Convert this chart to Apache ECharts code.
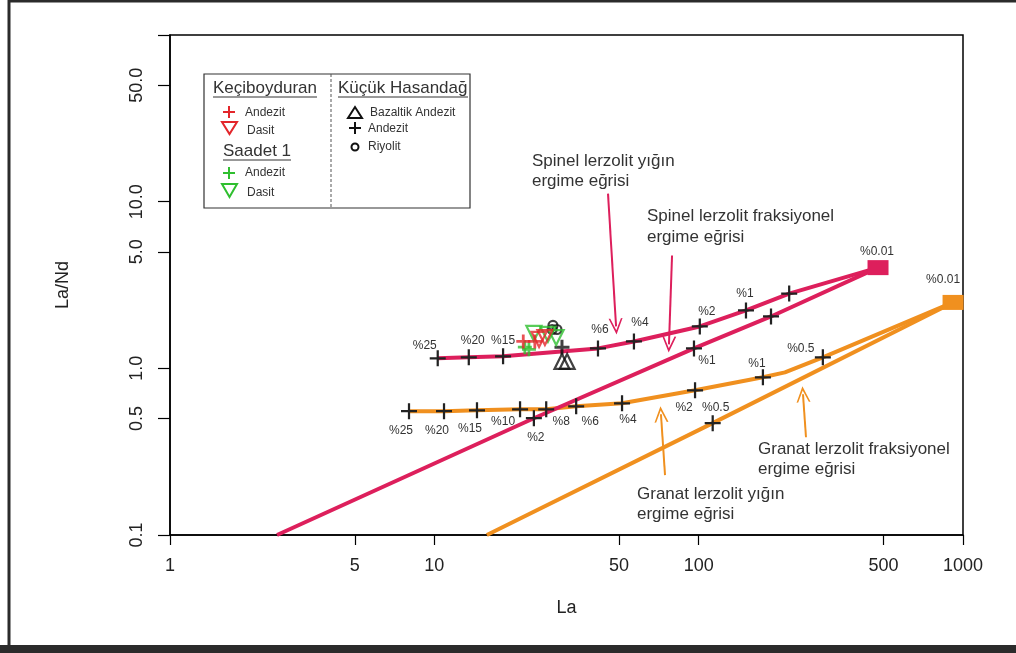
<!DOCTYPE html>
<html>
<head>
<meta charset="utf-8">
<script src="https://cdn.jsdelivr.net/npm/echarts@6/dist/echarts.min.js"></script>
<style>
html,body{margin:0;padding:0;background:#fff;}
#main{width:1016px;height:653px;}
</style>
</head>
<body>
<div id="main"></div>
<script>
//eksen degerleri
var xTicks = [1, 5, 10, 50, 100, 500, 1000];
var yTicks = [0.1, 0.5, 1, 5, 10, 50, 100];
var yLabels = [0.1, 0.5, 1, 5, 10, 50];

//Spinel lerzolit yigin ergime egrisi
var spBatchLa    = [10.3, 13.5, 18.2, 41.6, 56.9, 101, 151, 220, 477];
var spBatchRatio = [1.148, 1.164, 1.18, 1.317, 1.45, 1.784, 2.225, 2.81, 4.02];
var spBatchPct   = ['%25', '%20', '%15', '%6', '%4', '%2', '%1', '', '%0.01'];
//Spinel lerzolit fraksiyonel
var spFracLa    = [2.54, 23.8, 96.0, 187.8, 477];
var spFracRatio = [0.1, 0.502, 1.317, 2.048, 4.02];
var spFracPct   = [null, '%2', '%1', '', null];
//Granat lerzolit yigin
var grBatchLa    = [8.02, 10.88, 14.5, 21.1, 26.5, 34.4, 51.3, 96.9, 175, 212, 295, 917];
var grBatchRatio = [0.553, 0.553, 0.560, 0.568, 0.568, 0.592, 0.617, 0.738, 0.884, 0.946, 1.164, 2.486];
var grBatchPct   = ['%25', '%20', '%15', '%10', '%8', '%6', '%4', '%2', '%1', null, '%0.5', '%0.01'];
//Granat lerzolit fraksiyonel
var grFracLa    = [15.8, 113, 917];
var grFracRatio = [0.1, 0.469, 2.486];
var grFracPct   = [null, '%0.5', null];

//ornekler
var kecAndLa = [21.7, 24.0],       kecAndRatio = [1.45, 1.45];
var kecDasLa = [24.9, 26.2],       kecDasRatio = [1.49, 1.53];
var saaAndLa = [22.0, 22.8],       saaAndRatio = [1.34, 1.30];
var saaDasLa = [23.8, 26.9, 28.9], saaDasRatio = [1.62, 1.60, 1.53];
var khBazLa  = [30.4, 31.8],       khBazRatio  = [1.10, 1.10];
var khAndLa  = [30.4],             khAndRatio  = [1.34];
var khRiyLa  = [28.1, 27.9, 29.1], khRiyRatio  = [1.81, 1.71, 1.71];

//oklar [La1, oran1, La2, oran2]
var arrowSpBatch = [45.4, 11.17, 48.7, 1.784];
var arrowSpFrac  = [79.3, 4.75, 77.2, 1.392];
var arrowGrBatch = [74.6, 0.2287, 72.0, 0.530];
var arrowGrFrac  = [254.7, 0.386, 248.1, 0.699];

//etiket konumlari (px)
var spBatchOff = [[-13,-13],[4,-17],[0,-16],[2,-19],[6,-19],[7,-15],[-1,-17],null,[-1,-16]];
var spFracOff  = [null,[2,19],[13,12],null,null];
var grBatchOff = [[-8,19],[-7,19],[-7,18],[-17,12],[15,12],[14,15],[6,16],[-11,17],[-6,-14],null,[-22,-9],[-10,-23]];
var grFracOff  = [null,[3,-15],null];

var FONT = '"Liberation Sans", Arial, sans-serif';
var CRIMSON = '#dd1f5c';
var ORANGE = '#f0901f';
var PLUS = 'path://M0,4.3H10V5.7H0Z M4.3,0H5.7V10H4.3Z';
var PLUS_B = 'path://M0,4H10V6H0Z M4,0H6V10H4Z';
var CHEV = 'path://M0,10 L5,0 L10,10 L8.8,10 L5,2.6 L1.2,10 Z';

var chart = echarts.init(document.getElementById('main'));

function curve(name, la, ratio, pct, offs, color, arrow){
	var data = [];
	for(var i=0;i<la.length;i++){
		var item = {value:[la[i], ratio[i]]};
		if(pct[i] === null){
			item.symbol = 'none';
		}else if(pct[i] === '%0.01'){
			item.symbol = 'rect';
			item.symbolSize = [21,15];
			item.itemStyle = {color: color};
		}
		if(pct[i]){
			item.label = {show:true, formatter: pct[i], position:'inside', offset: offs[i]};
		}
		data.push(item);
	}
	return {
		name: name,
		type: 'line',
		data: data,
		symbol: PLUS,
		symbolSize: 16,
		showAllSymbol: true,
		itemStyle: {color:'#222'},
		lineStyle: {color: color, width: 4},
		label: {show:false, color:'#333', fontSize:12, fontFamily: FONT},
		emphasis: {disabled:true},
		animation: false,
		z: 2,
		markLine: {
			silent: true,
			symbol: ['none', CHEV],
			symbolSize: [14, 16],
			label: {show:false},
			lineStyle: {color: color, width: 2, type:'solid'},
			data: [[{coord:[arrow[0], arrow[1]]}, {coord:[arrow[2], arrow[3]]}]]
		}
	};
}

function samples(la, ratio, sym, size, color, filled, rotate){
	var d = [];
	for(var i=0;i<la.length;i++) d.push([la[i], ratio[i]]);
	return {
		type:'scatter', data:d, symbol: sym, symbolSize: size, symbolRotate: rotate || 0,
		itemStyle: filled ? {color: color} : {color:'rgba(0,0,0,0)', borderColor: color, borderWidth: 2.2},
		emphasis:{disabled:true}, animation:false, z:5
	};
}

function txt(x, y, s, size){
	return {type:'text', x:x, y:y, style:{text:s, font: (size||17)+'px '+FONT, fill:'#333', textVerticalAlign:'middle'}};
}
function ln(x1,y1,x2,y2,color,w,dash){
	return {type:'line', shape:{x1:x1,y1:y1,x2:x2,y2:y2}, style:{stroke:color, lineWidth:w, lineDash: dash||null}};
}
function tri(pts, color){
	return {type:'polygon', shape:{points:pts}, style:{fill:'none', stroke:color, lineWidth:2}};
}

var option = {
	backgroundColor:'#fff',
	grid: {left:170, right:53, top:35, bottom:118, show:true, borderColor:'#000', borderWidth:1.5, backgroundColor:'transparent'},
	xAxis: {
		type:'log', logBase:10, min:1, max:1000,
		name:'La', nameLocation:'middle', nameGap:64,
		nameTextStyle:{fontSize:18, color:'#222', fontFamily:FONT},
		axisLine:{show:true, lineStyle:{color:'#000', width:1.5}},
		axisTick:{show:true, length:10, customValues:xTicks, lineStyle:{color:'#000', width:1.2}},
		axisLabel:{customValues:xTicks, margin:22, fontSize:18, color:'#222', fontFamily:FONT,
			formatter:function(v){ return String(Math.round(v)); }},
		splitLine:{show:false}, minorTick:{show:false}
	},
	yAxis: {
		type:'log', logBase:10, min:0.1, max:100,
		name:'La/Nd', nameLocation:'middle', nameGap:98,
		nameTextStyle:{fontSize:18, color:'#222', fontFamily:FONT},
		axisLine:{show:true, lineStyle:{color:'#000', width:1.5}},
		axisTick:{show:true, length:12, customValues:yTicks, lineStyle:{color:'#000', width:1.2}},
		axisLabel:{customValues:yLabels, margin:24, rotate:90, fontSize:18, color:'#222', fontFamily:FONT,
			formatter:function(v){ return (+v).toFixed(1); }},
		splitLine:{show:false}, minorTick:{show:false}
	},
	series: [
		curve('Granat lerzolit fraksiyonel', grFracLa, grFracRatio, grFracPct, grFracOff, ORANGE, arrowGrFrac),
		curve('Granat lerzolit yığın', grBatchLa, grBatchRatio, grBatchPct, grBatchOff, ORANGE, arrowGrBatch),
		curve('Spinel lerzolit fraksiyonel', spFracLa, spFracRatio, spFracPct, spFracOff, CRIMSON, arrowSpFrac),
		curve('Spinel lerzolit yığın', spBatchLa, spBatchRatio, spBatchPct, spBatchOff, CRIMSON, arrowSpBatch),
		samples(khRiyLa, khRiyRatio, 'circle', 9, '#111', false),
		samples(khBazLa, khBazRatio, 'triangle', 15, '#111', false),
		samples(khAndLa, khAndRatio, PLUS_B, 15, '#111', true),
		samples(saaDasLa, saaDasRatio, 'triangle', 15, '#2fbf2f', false, 180),
		samples(kecDasLa, kecDasRatio, 'triangle', 15, '#e3262b', false, 180),
		samples(saaAndLa, saaAndRatio, PLUS_B, 14, '#2fbf2f', true),
		samples(kecAndLa, kecAndRatio, PLUS_B, 14, '#e3262b', true)
	],
	graphic: [
		//cerceve
		{type:'rect', shape:{x:9, y:1, width:1030, height:646}, style:{fill:'none', stroke:'#2b2b2b', lineWidth:3}, silent:true},
		{type:'rect', shape:{x:0, y:645, width:1016, height:8}, style:{fill:'#2b2b2b'}, silent:true},
		//aciklamalar
		txt(532, 161, 'Spinel lerzolit yığın'), txt(532, 181, 'ergime eğrisi'),
		txt(647, 216, 'Spinel lerzolit fraksiyonel'), txt(647, 237, 'ergime eğrisi'),
		txt(758, 449, 'Granat lerzolit fraksiyonel'), txt(758, 469, 'ergime eğrisi'),
		txt(637, 494, 'Granat lerzolit yığın'), txt(637, 514, 'ergime eğrisi'),
		//legend kutusu
		{type:'rect', shape:{x:204, y:74, width:266, height:134}, style:{fill:'#fff', stroke:'#333', lineWidth:1.2}, z:10},
		Object.assign(ln(331, 74, 331, 208, '#555', 1, [3,2]), {z:11}),
		Object.assign(txt(213, 88, 'Keçiboyduran'), {z:11}), Object.assign(ln(213, 97, 317, 97, '#333', 1), {z:11}),
		Object.assign(txt(223, 151, 'Saadet 1'), {z:11}), Object.assign(ln(223, 160, 291, 160, '#333', 1), {z:11}),
		Object.assign(txt(338, 88, 'Küçük Hasandağ'), {z:11}), Object.assign(ln(338, 97, 468, 97, '#333', 1), {z:11}),
		Object.assign(ln(223, 112, 235, 112, '#e3262b', 2), {z:11}), Object.assign(ln(229, 106, 229, 118, '#e3262b', 2), {z:11}),
		Object.assign(tri([[222,122],[237,122],[229.5,134]], '#e3262b'), {z:11}),
		Object.assign(ln(223, 173, 235, 173, '#2fbf2f', 2), {z:11}), Object.assign(ln(229, 167, 229, 179, '#2fbf2f', 2), {z:11}),
		Object.assign(tri([[222,184],[237,184],[229.5,197]], '#2fbf2f'), {z:11}),
		Object.assign(tri([[348,118],[362,118],[355,107]], '#111'), {z:11}),
		Object.assign(ln(349, 128, 361, 128, '#111', 2), {z:11}), Object.assign(ln(355, 122, 355, 134, '#111', 2), {z:11}),
		{type:'circle', shape:{cx:355, cy:147, r:3.5}, style:{fill:'none', stroke:'#111', lineWidth:2}, z:11},
		Object.assign(txt(245, 113, 'Andezit', 12), {z:11}),
		Object.assign(txt(247, 131, 'Dasit', 12), {z:11}),
		Object.assign(txt(245, 173, 'Andezit', 12), {z:11}),
		Object.assign(txt(247, 193, 'Dasit', 12), {z:11}),
		Object.assign(txt(370, 113, 'Bazaltik Andezit', 12), {z:11}),
		Object.assign(txt(368, 129, 'Andezit', 12), {z:11}),
		Object.assign(txt(368, 147, 'Riyolit', 12), {z:11})
	]
};
chart.setOption(option);
</script>
</body>
</html>
